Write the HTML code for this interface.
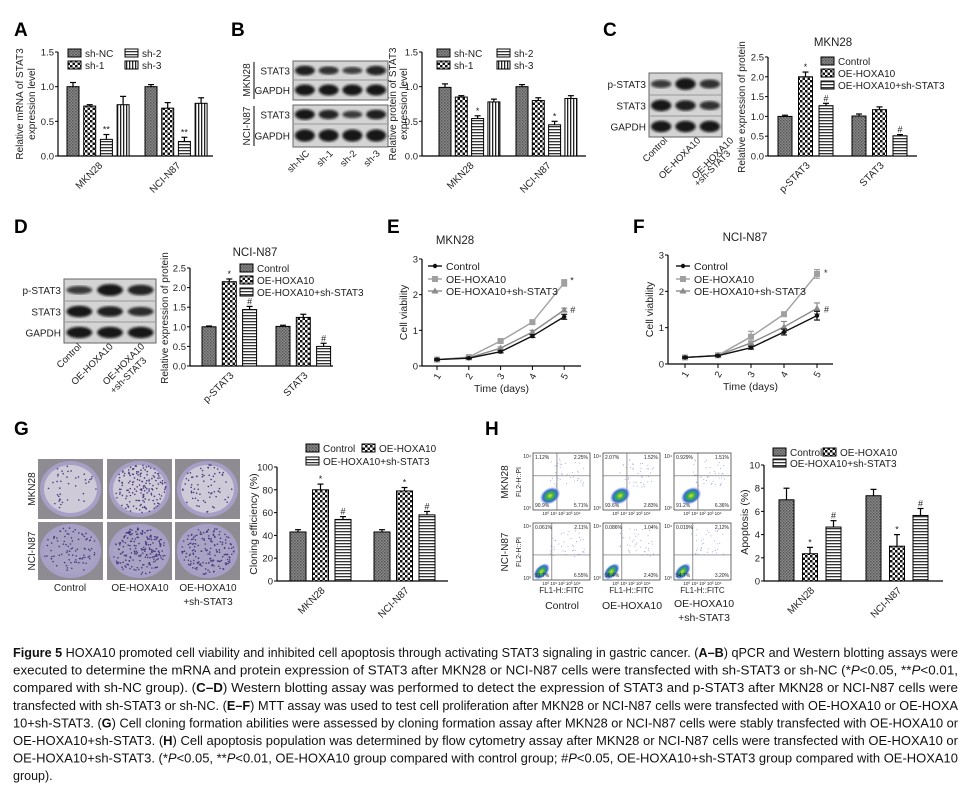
<!DOCTYPE html>
<html><head><meta charset="utf-8">
<style>
html,body{margin:0;padding:0;background:#fff;}
svg{display:block;font-family:"Liberation Sans",Arial,sans-serif;}
</style></head>
<body>
<svg id="fig" width="972" height="801" viewBox="0 0 972 801" xmlns="http://www.w3.org/2000/svg">
<defs>
<pattern id="pNC" width="3" height="3" patternUnits="userSpaceOnUse"><rect width="3" height="3" fill="#8a8a8a"/><rect width="1.5" height="1.5" fill="#555"/><rect x="1.5" y="1.5" width="1.5" height="1.5" fill="#666"/></pattern>
<pattern id="pChk" width="5" height="5" patternUnits="userSpaceOnUse"><rect width="5" height="5" fill="#fff"/><rect width="2.5" height="2.5" fill="#111"/><rect x="2.5" y="2.5" width="2.5" height="2.5" fill="#111"/></pattern>
<pattern id="pH" width="4" height="3" patternUnits="userSpaceOnUse"><rect width="4" height="3" fill="#fff"/><rect width="4" height="1.3" fill="#333"/></pattern>
<pattern id="pV" width="3" height="4" patternUnits="userSpaceOnUse"><rect width="3" height="4" fill="#fff"/><rect width="1.3" height="4" fill="#222"/></pattern>
<filter id="blur1"><feGaussianBlur stdDeviation="1.2"/></filter>
<radialGradient id="flowG"><stop offset="0" stop-color="#e8e020"/><stop offset="0.35" stop-color="#30b050"/><stop offset="0.7" stop-color="#3a6ad0"/><stop offset="1" stop-color="#8aa0f0" stop-opacity="0"/></radialGradient>
</defs>
<g id="root"></g>
</svg>
<script>
// ---------- data ----------
var catsA = ["MKN28","NCI-N87"];
var seriesA = ["sh-NC","sh-1","sh-2","sh-3"];
var valsA = [[1.00,0.72,0.24,0.74],[1.00,0.69,0.21,0.76]];
var errsA = [[0.06,0.02,0.07,0.12],[0.03,0.08,0.06,0.08]];
var marksA = [["","","**",""],["","","**",""]];
var ticksA = [0,0.5,1.0,1.5];
var tickLabA = ["0.0","0.5","1.0","1.5"];

var valsB = [[0.99,0.85,0.54,0.78],[1.00,0.80,0.45,0.83]];
var errsB = [[0.05,0.02,0.04,0.04],[0.03,0.04,0.05,0.04]];
var marksB = [["","","*",""],["","","*",""]];
var lanesB = ["sh-NC","sh-1","sh-2","sh-3"];

var catsC = ["p-STAT3","STAT3"];
var seriesC = ["Control","OE-HOXA10","OE-HOXA10+sh-STAT3"];
var valsC = [[1.00,2.00,1.27],[1.01,1.17,0.51]];
var errsC = [[0.03,0.12,0.06],[0.05,0.07,0.03]];
var marksC = [["","*","#"],["","","#"]];
var ticksC = [0,0.5,1.0,1.5,2.0,2.5];
var tickLabC = ["0.0","0.5","1.0","1.5","2.0","2.5"];

var valsD = [[1.00,2.15,1.44],[1.01,1.24,0.50]];
var errsD = [[0.02,0.07,0.08],[0.03,0.08,0.08]];
var marksD = [["","*","#"],["","","#"]];

var days = [1,2,3,4,5];
var ctrlE = [0.18,0.22,0.40,0.84,1.38];
var oeE = [0.18,0.25,0.70,1.23,2.33];
var shE = [0.18,0.23,0.50,0.95,1.57];
var errCtrlE = [0.02,0.02,0.03,0.04,0.07];
var errOeE = [0.02,0.02,0.03,0.04,0.09];
var errShE = [0.02,0.02,0.03,0.05,0.05];
var ctrlF = [0.18,0.23,0.45,0.88,1.33];
var oeF = [0.18,0.24,0.75,1.37,2.48];
var shF = [0.18,0.24,0.58,1.02,1.53];
var errCtrlF = [0.02,0.02,0.04,0.08,0.12];
var errOeF = [0.02,0.02,0.15,0.06,0.12];
var errShF = [0.02,0.02,0.05,0.15,0.15];
var ticksLine = [0,1,2,3];

var catsG = ["MKN28","NCI-N87"];
var valsG = [[43,80,54],[43,79,58]];
var errsG = [[2,5,2.5],[2,3,3]];
var marksG = [["","*","#"],["","*","#"]];
var ticksG = [0,20,40,60,80,100];

var valsH = [[7.0,2.35,4.65],[7.35,3.0,5.65]];
var errsH = [[1.0,0.55,0.55],[0.55,1.0,0.6]];
var marksH = [["","*","#"],["","*","#"]];
var ticksH = [0,2,4,6,8,10];

var flowPct = [["1.12%","2.25%","90.9%","5.71%"],["2.07%","1.52%","93.6%","2.83%"],["0.929%","1.51%","91.2%","6.36%"],
               ["0.061%","2.11%","91.7%","6.55%"],["0.086%","1.04%","96.4%","2.43%"],["0.019%","2.12%","94.7%","3.20%"]];

// ---------- helpers ----------
var NS="http://www.w3.org/2000/svg";
var root=document.getElementById('root');
function mk(tag,attrs,parent,txt){var e=document.createElementNS(NS,tag);for(var k in attrs)e.setAttribute(k,attrs[k]);if(txt!==undefined)e.textContent=txt;(parent||root).appendChild(e);return e;}
function grp(name){var g=document.createElementNS(NS,'g');


root.appendChild(g);return g;}
function label(g,x,y,t,opt){opt=opt||{};var a={x:x,y:y,'font-size':opt.fs||10,fill:opt.fill||'#222','text-anchor':opt.anchor||'start'};
if(opt.rot!==undefined)a.transform='rotate('+opt.rot+' '+x+' '+y+')';if(opt.bold)a['font-weight']='bold';
var e=mk('text',a,g,t);


return e;}
var pats=["url(#pNC)","url(#pChk)","url(#pH)","url(#pV)"];

function yAxis(g,c,ticks,labs){
  var sc=function(v){return c.y0-(v/c.vmax)*(c.y0-c.ytop);};
  mk('line',{x1:c.ax,y1:c.y0,x2:c.ax,y2:c.ytop,stroke:'#000','stroke-width':1.2},g);
  for(var i=0;i<ticks.length;i++){var y=sc(ticks[i]);
    mk('line',{x1:c.ax-3,y1:y,x2:c.ax,y2:y,stroke:'#000','stroke-width':1},g);
    label(g,c.ax-4,y+3.5,labs[i],{anchor:'end',fs:c.fs||9.5,name:'y-tick-label'});}
  return sc;
}
function barChart(name,c,vals,errs,marks,cats,ticks,labs){
  var g=grp(name);
  var sc=yAxis(g,c,ticks,labs);
  mk('line',{x1:c.ax,y1:c.y0,x2:c.xEnd,y2:c.y0,stroke:'#000','stroke-width':1.2},g);
  for(var gi=0;gi<vals.length;gi++){
    for(var s=0;s<vals[gi].length;s++){
      var x=c.g0+gi*c.gStep+s*c.bStep, v=vals[gi][s], y=sc(v), ye=sc(v+errs[gi][s]);
      var r=mk('rect',{x:x,y:y,width:c.bw,height:c.y0-y,fill:c.pats[s],stroke:'#000','stroke-width':1},g);
      
      
      var cx=x+c.bw/2;
      mk('line',{x1:cx,y1:y,x2:cx,y2:ye,stroke:'#000','stroke-width':1.2},g);
      mk('line',{x1:cx-3,y1:ye,x2:cx+3,y2:ye,stroke:'#000','stroke-width':1.2},g);
      if(marks[gi][s])label(g,cx,ye-2,marks[gi][s],{anchor:'middle',fs:9,name:'significance-mark'});
    }
    var gc=c.g0+gi*c.gStep+((vals[gi].length-1)*c.bStep+c.bw)/2;
    label(g,gc+5,c.y0+10,cats[gi],{anchor:'end',rot:-45,fs:10,name:'x-category-label'});
  }
  return g;
}
function legend(g,items,patsL,pos){
  for(var i=0;i<items.length;i++){var p=pos[i];
    var r=mk('rect',{x:p[0],y:p[1]-8,width:13,height:8,fill:patsL[i],stroke:'#000','stroke-width':1},g);
    
    
    label(g,p[0]+17,p[1],items[i],{fs:10,name:'legend-entry'});}
}
function blot(name,x,y,w,rows,lanes,intens,labels){
  var g=grp(name);var rh=rows;
  var tot=0;for(var i=0;i<rh.length;i++)tot+=rh[i];
  mk('rect',{x:x,y:y,width:w,height:tot,fill:'#d4d4d4',stroke:'#666','stroke-width':1},g);
  var yy=y;
  for(var r=0;r<rh.length;r++){
    if(r>0)mk('line',{x1:x,y1:yy,x2:x+w,y2:yy,stroke:'#999','stroke-width':1},g);
    for(var l=0;l<lanes;l++){var cx=x+w*(l+0.5)/lanes;var it=intens[r][l];
      mk('ellipse',{cx:cx,cy:yy+rh[r]/2,rx:w/lanes*0.42,ry:rh[r]*0.2*it+1.5,fill:'#111',opacity:0.5+0.45*it,filter:'url(#blur1)'},g);}
    label(g,x-3,yy+rh[r]/2+4,labels[r],{anchor:'end',fs:10,name:'blot-row-label'});
    yy+=rh[r];}
  return g;
}
function lineChart(name,c,series,errs,colors,shapes,names,legPos){
  var g=grp(name);
  var sc=yAxis(g,c,ticksLine,["0","1","2","3"]);
  var xs=function(d){return c.x1+(d-1)*c.dx;};
  mk('line',{x1:c.ax,y1:c.y0,x2:c.xEnd,y2:c.y0,stroke:'#000','stroke-width':1.2},g);
  for(var i=0;i<days.length;i++){var x=xs(days[i]);
    mk('line',{x1:x,y1:c.y0,x2:x,y2:c.y0+4,stroke:'#000'},g);
    label(g,x+3,c.y0+12,String(days[i]),{anchor:'middle',rot:-60,fs:9.5,name:'x-tick-label'});}
  label(g,(c.ax+c.xEnd)/2,c.y0+26,"Time (days)",{anchor:'middle',fs:10.5,name:'x-axis-title'});
  label(g,c.ax-15,(c.y0+c.ytop)/2,"Cell viability",{anchor:'middle',rot:-90,fs:10.5,name:'y-axis-title'});
  for(var s=series.length-1;s>=0;s--){
    var pts=[];for(var i=0;i<days.length;i++)pts.push(xs(days[i])+','+sc(series[s][i]));
    var pl=mk('polyline',{points:pts.join(' '),fill:'none',stroke:colors[s],'stroke-width':1.4},g);
    
    
    for(var i=0;i<days.length;i++){var x=xs(days[i]),y=sc(series[s][i]),e1=sc(series[s][i]+errs[s][i]),e2=sc(series[s][i]-errs[s][i]);
      mk('line',{x1:x,y1:e1,x2:x,y2:e2,stroke:colors[s],'stroke-width':1.2},g);
      mk('line',{x1:x-3,y1:e1,x2:x+3,y2:e1,stroke:colors[s],'stroke-width':1.2},g);
      mk('line',{x1:x-3,y1:e2,x2:x+3,y2:e2,stroke:colors[s],'stroke-width':1.2},g);
      marker(g,shapes[s],x,y,colors[s]);}
  }
  for(var s=0;s<names.length;s++){var p=legPos[s];
    mk('line',{x1:p[0],y1:p[1],x2:p[0]+14,y2:p[1],stroke:colors[s],'stroke-width':1.4},g);
    marker(g,shapes[s],p[0]+7,p[1],colors[s]);
    label(g,p[0]+18,p[1]+4,names[s],{fs:10.5,name:'legend-entry'});}
  return {g:g,sc:sc,xs:xs};
}
function marker(g,sh,x,y,col){
  if(sh==='c')mk('circle',{cx:x,cy:y,r:2.2,fill:col},g);
  else if(sh==='s')mk('rect',{x:x-3,y:y-3,width:6,height:6,fill:col},g);
  else mk('polygon',{points:(x)+','+(y-3.5)+' '+(x-3.5)+','+(y+2.5)+' '+(x+3.5)+','+(y+2.5),fill:col},g);
}
function panelLetter(t,x,y){label(root,x,y,t,{fs:19,bold:true,fill:'#000',name:'panel-label-'+t.toLowerCase()});}

// ---------- Panel A ----------
panelLetter("A",14,36);
var cA={ax:58,y0:156,ytop:52,vmax:1.5,g0:67,gStep:78,bStep:16.7,bw:12,xEnd:213,pats:pats};
var gA=barChart('panel-a-chart',cA,valsA,errsA,marksA,catsA,ticksA,tickLabA);
label(gA,23,104,"Relative mRNA of STAT3",{anchor:'middle',rot:-90,fs:10,name:'y-axis-title'});
label(gA,35,104,"expression level",{anchor:'middle',rot:-90,fs:10,name:'y-axis-title'});
legend(gA,seriesA,pats,[[68,57],[68,69],[125,57],[125,69]]);

// ---------- Panel B ----------
panelLetter("B",231,36);
blot('panel-b-blot-mkn28',293,61,95,[19,20],4,[[0.9,0.7,0.55,0.85],[1,1,1,1]],["STAT3","GAPDH"]);
blot('panel-b-blot-ncin87',293,105,95,[19,23],4,[[1,0.85,0.6,0.9],[1,1,1,1]],["STAT3","GAPDH"]);
mk('line',{x1:254,y1:62,x2:254,y2:99,stroke:'#000'},root);
mk('line',{x1:254,y1:106,x2:254,y2:146,stroke:'#000'},root);
label(root,250,80,"MKN28",{anchor:'middle',rot:-90,fs:10,name:'blot-cell-label'});
label(root,250,126,"NCI-N87",{anchor:'middle',rot:-90,fs:10,name:'blot-cell-label'});
for(var i=0;i<lanesB.length;i++){label(root,310+i*23.5,154,lanesB[i],{anchor:'end',rot:-45,fs:9.5,name:'blot-lane-label'});}
var cB={ax:422,y0:156,ytop:52,vmax:1.5,g0:439,gStep:77,bStep:16.3,bw:12,xEnd:586,pats:pats};
var gB=barChart('panel-b-chart',cB,valsB,errsB,marksB,catsA,ticksA,tickLabA);
label(gB,396,104,"Relative protein of STAT3",{anchor:'middle',rot:-90,fs:10,name:'y-axis-title'});
label(gB,407,104,"expression level",{anchor:'middle',rot:-90,fs:10,name:'y-axis-title'});
legend(gB,seriesA,pats,[[437,57],[437,69],[497,57],[497,69]]);

// ---------- Panel C ----------
var patsC=["url(#pNC)","url(#pChk)","url(#pH)"];
panelLetter("C",603,36);
blot('panel-c-blot',649,73,73,[22,21,21],3,[[0.6,1,0.7],[1,0.9,0.7],[1,1,1]],["p-STAT3","STAT3","GAPDH"]);
var lanesC=["Control","OE-HOXA10","OE-HOXA10"];
for(var i=0;i<3;i++)label(root,668+i*33,141,lanesC[i],{anchor:'end',rot:-45,fs:9.5,name:'blot-lane-label'});
label(root,731,154,"+sh-STAT3",{anchor:'end',rot:-45,fs:9.5,name:'blot-lane-label'});
var cC={ax:768,y0:156,ytop:57,vmax:2.5,g0:778,gStep:74,bStep:20.5,bw:14,xEnd:917,pats:patsC};
var gC=barChart('panel-c-chart',cC,valsC,errsC,marksC,catsC,ticksC,tickLabC);
label(gC,833,46,"MKN28",{anchor:'middle',fs:11.5,name:'chart-title'});
label(gC,745,107,"Relative expression of protein",{anchor:'middle',rot:-90,fs:10,name:'y-axis-title'});
legend(gC,seriesC,patsC,[[821,65],[821,77],[821,89]]);

// ---------- Panel D ----------
panelLetter("D",14,233);
blot('panel-d-blot',64,279,92,[22,21,21],3,[[0.6,1,0.85],[1,0.9,0.75],[1,1,1]],["p-STAT3","STAT3","GAPDH"]);
for(var i=0;i<3;i++)label(root,82+i*31.5,347,lanesC[i],{anchor:'end',rot:-45,fs:9.5,name:'blot-lane-label'});
label(root,147,361,"+sh-STAT3",{anchor:'end',rot:-45,fs:9.5,name:'blot-lane-label'});
var cD={ax:190,y0:366,ytop:268,vmax:2.5,g0:202,gStep:74,bStep:20.3,bw:14,xEnd:333,pats:patsC};
var gD=barChart('panel-d-chart',cD,valsD,errsD,marksD,catsC,ticksC,tickLabC);
label(gD,255,256,"NCI-N87",{anchor:'middle',fs:11.5,name:'chart-title'});
label(gD,168,318,"Relative expression of protein",{anchor:'middle',rot:-90,fs:10,name:'y-axis-title'});
legend(gD,seriesC,patsC,[[240,272],[240,284],[240,296]]);

// ---------- Panels E & F ----------
var lcols=['#111','#a0a0a0','#8a8a8a'], lshapes=['c','s','t'];
panelLetter("E",387,233);
var cE={ax:422,y0:366,ytop:259,vmax:3,x1:437,dx:31.8,xEnd:581};
var E=lineChart('panel-e-chart',cE,[ctrlE,oeE,shE],[errCtrlE,errOeE,errShE],lcols,lshapes,seriesC,[[428,266],[428,279],[428,291]]);
label(E.g,455,244,"MKN28",{anchor:'middle',fs:11.5,name:'chart-title'});
label(E.g,E.xs(5)+6,E.sc(oeE[4]+errOeE[4])+4,"*",{fs:9,name:'significance-mark'});
label(E.g,E.xs(5)+6,E.sc(shE[4])+3,"#",{fs:9,name:'significance-mark'});
panelLetter("F",633,233);
var cF={ax:668,y0:364,ytop:255,vmax:3,x1:685,dx:33,xEnd:833};
var F=lineChart('panel-f-chart',cF,[ctrlF,oeF,shF],[errCtrlF,errOeF,errShF],lcols,lshapes,seriesC,[[676,266],[676,279],[676,291]]);
label(F.g,745,241,"NCI-N87",{anchor:'middle',fs:11.5,name:'chart-title'});
label(F.g,F.xs(5)+7,F.sc(oeF[4])+2,"*",{fs:9,name:'significance-mark'});
label(F.g,F.xs(5)+7,F.sc(shF[4])+4,"#",{fs:9,name:'significance-mark'});

// ---------- Panel G ----------
panelLetter("G",14,435);
var gGi=grp('panel-g-colony-images');
var dishX=[38,107,175], dishY=[459,522], dens=[[40,160,70],[90,200,170]];
var seed=7;function rnd(){seed=(seed*16807)%2147483647;return seed/2147483647;}
for(var r=0;r<2;r++)for(var c=0;c<3;c++){var x=dishX[c],y=dishY[r],w=65,h=r?58:60;
  mk('rect',{x:x,y:y,width:w,height:h,fill:'#8e8c92'},gGi);
  mk('ellipse',{cx:x+w/2,cy:y+h/2,rx:w/2-2,ry:h/2-2,fill:'#a79fc6'},gGi);
  mk('ellipse',{cx:x+w/2,cy:y+h/2,rx:w/2-6,ry:h/2-6,fill:r?'#aaa4c4':'#cfcad8'},gGi);
  for(var k=0;k<dens[r][c];k++){var a=rnd()*6.283,rr=Math.sqrt(rnd())*(w/2-6);
    mk('circle',{cx:x+w/2+Math.cos(a)*rr,cy:y+h/2+Math.sin(a)*rr*(h/w),r:0.8,fill:'#4a3a80'},gGi);}}
label(root,35,489,"MKN28",{anchor:'middle',rot:-90,fs:10,name:'row-label'});
label(root,35,551,"NCI-N87",{anchor:'middle',rot:-90,fs:10,name:'row-label'});
label(root,70,591,"Control",{anchor:'middle',fs:10,name:'column-label'});
label(root,140,591,"OE-HOXA10",{anchor:'middle',fs:10,name:'column-label'});
label(root,208,591,"OE-HOXA10",{anchor:'middle',fs:10,name:'column-label'});
label(root,208,605,"+sh-STAT3",{anchor:'middle',fs:10,name:'column-label'});
var cG={ax:277,y0:581,ytop:467,vmax:100,g0:290,gStep:84,bStep:22.5,bw:16,xEnd:448,pats:patsC};
var gG=barChart('panel-g-chart',cG,valsG,errsG,marksG,catsG,ticksG,ticksG.map(String));
label(gG,257,524,"Cloning efficiency (%)",{anchor:'middle',rot:-90,fs:10.5,name:'y-axis-title'});
legend(gG,seriesC,patsC,[[306,452],[362,452],[306,465]]);

// ---------- Panel H ----------
panelLetter("H",485,435);
var gHf=grp('panel-h-flow-plots');
var flX=[533,603,674], flY=[453,523];
for(var r=0;r<2;r++)for(var c=0;c<3;c++){var x=flX[c],y=flY[r],w=57,h=57,idx=r*3+c;
  mk('rect',{x:x,y:y,width:w,height:h,fill:'#fff',stroke:'#444','stroke-width':0.8},gHf);
  var vx=r?x+w*0.33:x+w*0.42, hy=r?y+h*0.56:y+h*0.4;
  mk('line',{x1:vx,y1:y,x2:vx,y2:y+h,stroke:'#666','stroke-width':0.7},gHf);
  mk('line',{x1:x,y1:hy,x2:x+w,y2:hy,stroke:'#666','stroke-width':0.7},gHf);
  if(r===0)mk('ellipse',{cx:x+w*0.3,cy:y+h*0.75,rx:11,ry:8,fill:'url(#flowG)',transform:'rotate(-30 '+(x+w*0.3)+' '+(y+h*0.75)+')'},gHf);
  else mk('ellipse',{cx:x+w*0.15,cy:y+h*0.85,rx:10,ry:6,fill:'url(#flowG)',transform:'rotate(-45 '+(x+w*0.15)+' '+(y+h*0.85)+')'},gHf);
  for(var k=0;k<40;k++)mk('circle',{cx:x+w*(0.3+rnd()*0.6),cy:y+h*(0.1+rnd()*0.5),r:0.5,fill:'#8899dd'},gHf);
  label(gHf,x+2,y+6,flowPct[idx][0],{fs:5,name:'quadrant-pct'});
  label(gHf,x+w-2,y+6,flowPct[idx][1],{fs:5,anchor:'end',name:'quadrant-pct'});
  label(gHf,x+2,y+h-3,flowPct[idx][2],{fs:5,name:'quadrant-pct'});
  label(gHf,x+w-2,y+h-3,flowPct[idx][3],{fs:5,anchor:'end',name:'quadrant-pct'});
  label(gHf,x-2,y+5,"10\u2074",{fs:5,anchor:'end',name:'flow-tick'});
  label(gHf,x-2,y+h,"10\u2070",{fs:5,anchor:'end',name:'flow-tick'});
  label(gHf,x+w/2,y+h+5,"10\u2070  10\u00b9  10\u00b2  10\u00b3  10\u2074",{fs:4.5,anchor:'middle',name:'flow-tick'});
  if(r===1)label(gHf,x+w/2,y+h+13,"FL1-H::FITC",{fs:8,anchor:'middle',name:'flow-x-title'});
}
label(root,521,482,"FL2-H::PI",{anchor:'middle',rot:-90,fs:7,name:'flow-y-title'});
label(root,521,552,"FL2-H::PI",{anchor:'middle',rot:-90,fs:7,name:'flow-y-title'});
label(root,508,482,"MKN28",{anchor:'middle',rot:-90,fs:10,name:'row-label'});
label(root,508,552,"NCI-N87",{anchor:'middle',rot:-90,fs:10,name:'row-label'});
label(root,562,609,"Control",{anchor:'middle',fs:10.5,name:'column-label'});
label(root,632,609,"OE-HOXA10",{anchor:'middle',fs:10.5,name:'column-label'});
label(root,704,607,"OE-HOXA10",{anchor:'middle',fs:10.5,name:'column-label'});
label(root,704,621,"+sh-STAT3",{anchor:'middle',fs:10.5,name:'column-label'});
var cH={ax:764,y0:581,ytop:465,vmax:10,g0:779,gStep:87,bStep:23.5,bw:15,xEnd:943,pats:patsC};
var gH=barChart('panel-h-chart',cH,valsH,errsH,marksH,catsG,ticksH,ticksH.map(String));
label(gH,748,522,"Apoptosis (%)",{anchor:'middle',rot:-90,fs:10.5,name:'y-axis-title'});
legend(gH,seriesC,patsC,[[773,456],[823,456],[773,467]]);

// ---------- Caption ----------
var capLines=[
 [["b","Figure 5"],["n"," HOXA10 promoted cell viability and inhibited cell apoptosis through activating STAT3 signaling in gastric cancer. ("],["b","A–B"],["n",") qPCR and Western blotting assays were"]],
 [["n","executed to determine the mRNA and protein expression of STAT3 after MKN28 or NCI-N87 cells were transfected with sh-STAT3 or sh-NC (*"],["i","P"],["n","<0.05, **"],["i","P"],["n","<0.01,"]],
 [["n","compared with sh-NC group). ("],["b","C–D"],["n",") Western blotting assay was performed to detect the expression of STAT3 and p-STAT3 after MKN28 or NCI-N87 cells were"]],
 [["n","transfected with sh-STAT3 or sh-NC. ("],["b","E–F"],["n",") MTT assay was used to test cell proliferation after MKN28 or NCI-N87 cells were transfected with OE-HOXA10 or OE-HOXA"]],
 [["n","10+sh-STAT3. ("],["b","G"],["n",") Cell cloning formation abilities were assessed by cloning formation assay after MKN28 or NCI-N87 cells were stably transfected with OE-HOXA10 or"]],
 [["n","OE-HOXA10+sh-STAT3. ("],["b","H"],["n",") Cell apoptosis population was determined by flow cytometry assay after MKN28 or NCI-N87 cells were transfected with OE-HOXA10 or"]],
 [["n","OE-HOXA10+sh-STAT3. (*"],["i","P"],["n","<0.05, **"],["i","P"],["n","<0.01, OE-HOXA10 group compared with control group; #"],["i","P"],["n","<0.05, OE-HOXA10+sh-STAT3 group compared with OE-HOXA10"]],
 [["n","group)."]]
];
var gCap=grp('figure-caption');
for(var i=0;i<capLines.length;i++){
  var a={x:13,y:657+i*17.6,'font-size':12.5,fill:'#111'};
  if(i<capLines.length-1){a.textLength=945;a.lengthAdjust='spacingAndGlyphs';}
  var t=mk('text',a,gCap);
  
  
  for(var j=0;j<capLines[i].length;j++){var seg=capLines[i][j];var at={};
    if(seg[0]==='b')at['font-weight']='bold';if(seg[0]==='i')at['font-style']='italic';
    mk('tspan',at,t,seg[1]);}
}
</script>
</body></html>
